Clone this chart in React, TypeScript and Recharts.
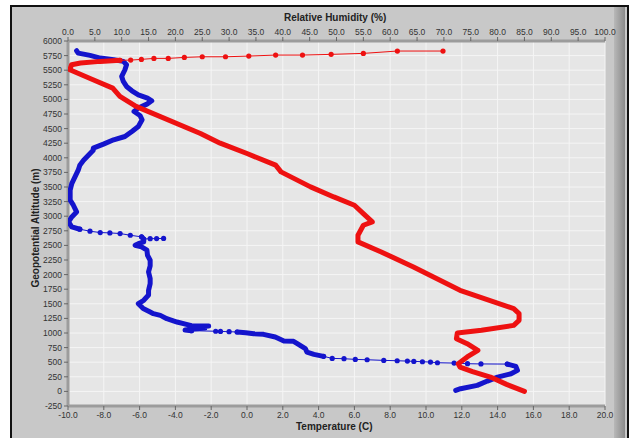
import React from "react";
import { ScatterChart, Scatter, XAxis, YAxis, CartesianGrid } from "recharts";

const RED = "#ee1111";
const BLUE = "#1414cc";
const FONT = "'Liberation Sans', Arial, sans-serif";

// axis ticks
const tempTicks = [-10, -8, -6, -4, -2, 0, 2, 4, 6, 8, 10, 12, 14, 16, 18, 20];
const rhTicks = [0, 5, 10, 15, 20, 25, 30, 35, 40, 45, 50, 55, 60, 65, 70, 75, 80, 85, 90, 95, 100];
const altTicks = [-250, 0, 250, 500, 750, 1000, 1250, 1500, 1750, 2000, 2250, 2500, 2750, 3000, 3250, 3500, 3750, 4000, 4250, 4500, 4750, 5000, 5250, 5500, 5750, 6000];

// temperature profile (C vs m)
const tempProfile = [
  { t: 15.5, alt: 0 }, { t: 14.5, alt: 120 }, { t: 13.6, alt: 245 }, { t: 12.6, alt: 340 },
  { t: 11.9, alt: 417 }, { t: 11.8, alt: 474 }, { t: 12.3, alt: 590 }, { t: 12.9, alt: 703 },
  { t: 12.3, alt: 817 }, { t: 11.7, alt: 903 }, { t: 11.75, alt: 1000 }, { t: 13.1, alt: 1046 },
  { t: 14.9, alt: 1131 }, { t: 15.2, alt: 1217 }, { t: 15.2, alt: 1331 }, { t: 14.9, alt: 1417 },
  { t: 11.9, alt: 1731 }, { t: 9.3, alt: 2131 }, { t: 7.5, alt: 2388 }, { t: 6.2, alt: 2560 },
  { t: 6.2, alt: 2674 }, { t: 6.5, alt: 2845 }, { t: 7.0, alt: 2902 }, { t: 6.5, alt: 3045 },
  { t: 6.0, alt: 3188 }, { t: 4.85, alt: 3330 }, { t: 3.55, alt: 3502 }, { t: 1.9, alt: 3759 },
  { t: 1.6, alt: 3874 }, { t: 0.0, alt: 4073 }, { t: -1.5, alt: 4251 }, { t: -2.6, alt: 4417 },
  { t: -6.2, alt: 4880 }, { t: -7.1, alt: 5051 }, { t: -7.5, alt: 5193 }, { t: -8.6, alt: 5336 },
  { t: -9.9, alt: 5508 }, { t: -9.8, alt: 5594 }, { t: -9.3, alt: 5622 }, { t: -8.2, alt: 5651 },
  { t: -7.1, alt: 5670 },
];
const tempTail = [
  { t: -7.1, alt: 5670 }, { t: -6.5, alt: 5673 }, { t: -5.9, alt: 5685 }, { t: -5.2, alt: 5702 },
  { t: -4.4, alt: 5702 }, { t: -3.5, alt: 5719 }, { t: -2.5, alt: 5730 }, { t: -1.2, alt: 5730 },
  { t: 0.1, alt: 5742 }, { t: 1.6, alt: 5759 }, { t: 3.1, alt: 5759 }, { t: 4.7, alt: 5771 },
  { t: 6.5, alt: 5788 }, { t: 8.4, alt: 5828 }, { t: 10.95, alt: 5828 },
];

// relative humidity profile (% vs m), split into dense and sparse stretches
const rhSurface = [
  { rh: 72.2, alt: 17 }, { rh: 73.1, alt: 46 }, { rh: 76.2, alt: 103 }, { rh: 78.1, alt: 177 },
  { rh: 80.0, alt: 245 }, { rh: 82.5, alt: 302 }, { rh: 83.7, alt: 360 }, { rh: 83.4, alt: 428 },
  { rh: 81.8, alt: 468 },
];
const rhDropLow = [
  { rh: 81.8, alt: 468 }, { rh: 76.9, alt: 470 }, { rh: 74.4, alt: 474 }, { rh: 71.9, alt: 485 },
  { rh: 68.8, alt: 491 }, { rh: 67.5, alt: 502 }, { rh: 66.0, alt: 508 }, { rh: 64.4, alt: 514 },
  { rh: 63.2, alt: 519 }, { rh: 61.3, alt: 525 }, { rh: 58.8, alt: 531 }, { rh: 55.7, alt: 542 },
  { rh: 53.5, alt: 548 }, { rh: 51.4, alt: 560 }, { rh: 49.2, alt: 565 }, { rh: 47.6, alt: 600 },
];
const rhLowMid = [
  { rh: 47.6, alt: 600 }, { rh: 45.8, alt: 634 }, { rh: 44.5, alt: 674 }, { rh: 44.2, alt: 731 },
  { rh: 42.7, alt: 817 }, { rh: 42.0, alt: 857 }, { rh: 40.2, alt: 862 }, { rh: 38.6, alt: 931 },
  { rh: 36.4, alt: 977 }, { rh: 34.6, alt: 988 }, { rh: 33.1, alt: 1005 }, { rh: 31.5, alt: 1017 },
];
const rhGap = [
  { rh: 31.5, alt: 1017 }, { rh: 30.0, alt: 1022 }, { rh: 28.4, alt: 1027 }, { rh: 27.5, alt: 1030 },
  { rh: 23.0, alt: 1040 },
];
const rhMid = [
  { rh: 23.0, alt: 1040 }, { rh: 21.8, alt: 1050 }, { rh: 23.5, alt: 1070 }, { rh: 25.5, alt: 1085 },
  { rh: 23.0, alt: 1095 }, { rh: 24.5, alt: 1110 }, { rh: 26.2, alt: 1118 }, { rh: 23.0, alt: 1125 },
  { rh: 21.5, alt: 1160 }, { rh: 20.3, alt: 1188 }, { rh: 18.4, alt: 1245 }, { rh: 17.2, alt: 1302 },
  { rh: 15.9, alt: 1331 }, { rh: 15.3, alt: 1360 }, { rh: 14.0, alt: 1420 }, { rh: 13.1, alt: 1503 },
  { rh: 14.1, alt: 1560 }, { rh: 15.0, alt: 1650 }, { rh: 15.0, alt: 1731 }, { rh: 15.3, alt: 1846 },
  { rh: 15.3, alt: 1931 }, { rh: 15.0, alt: 2045 }, { rh: 15.3, alt: 2150 }, { rh: 15.3, alt: 2245 },
  { rh: 14.8, alt: 2331 }, { rh: 14.7, alt: 2417 }, { rh: 13.7, alt: 2474 }, { rh: 12.5, alt: 2503 },
  { rh: 13.1, alt: 2530 }, { rh: 14.1, alt: 2560 }, { rh: 14.1, alt: 2610 }, { rh: 13.7, alt: 2646 },
];
const rhSpike = [
  { rh: 14.1, alt: 2610 }, { rh: 15.3, alt: 2615 }, { rh: 16.5, alt: 2617 }, { rh: 17.8, alt: 2620 },
];
const rhDropMid = [
  { rh: 13.7, alt: 2646 }, { rh: 11.6, alt: 2674 }, { rh: 9.7, alt: 2703 }, { rh: 7.8, alt: 2714 },
  { rh: 6.0, alt: 2720 }, { rh: 4.1, alt: 2743 }, { rh: 2.2, alt: 2777 },
];
const rhUpper = [
  { rh: 2.2, alt: 2777 }, { rh: 0.7, alt: 2816 }, { rh: 0.1, alt: 2902 }, { rh: 0.7, alt: 2988 },
  { rh: 1.6, alt: 3073 }, { rh: 1.0, alt: 3188 }, { rh: 0.4, alt: 3274 }, { rh: 0.4, alt: 3445 },
  { rh: 0.7, alt: 3559 }, { rh: 1.3, alt: 3673 }, { rh: 1.9, alt: 3788 }, { rh: 2.2, alt: 3874 },
  { rh: 2.9, alt: 3959 }, { rh: 3.8, alt: 4045 }, { rh: 4.7, alt: 4131 }, { rh: 4.7, alt: 4165 },
  { rh: 6.6, alt: 4234 }, { rh: 8.5, alt: 4308 }, { rh: 10.6, alt: 4365 }, { rh: 11.9, alt: 4451 },
  { rh: 13.1, alt: 4537 }, { rh: 13.8, alt: 4651 }, { rh: 13.4, alt: 4725 }, { rh: 12.3, alt: 4793 },
  { rh: 13.1, alt: 4851 }, { rh: 14.7, alt: 4919 }, { rh: 15.6, alt: 4976 }, { rh: 14.8, alt: 5022 },
  { rh: 13.1, alt: 5079 }, { rh: 11.9, alt: 5148 }, { rh: 10.9, alt: 5222 }, { rh: 10.3, alt: 5308 },
  { rh: 10.0, alt: 5394 }, { rh: 10.6, alt: 5508 }, { rh: 10.9, alt: 5594 }, { rh: 10.3, alt: 5651 },
  { rh: 8.5, alt: 5679 }, { rh: 6.0, alt: 5708 }, { rh: 4.1, alt: 5754 }, { rh: 2.9, alt: 5776 },
  { rh: 1.9, alt: 5793 }, { rh: 1.6, alt: 5833 },
];

const tickStyle = { fontSize: 8.5, fill: "#333", fontFamily: FONT };
const axisBar = { stroke: "#9c9c9c", strokeWidth: 3 };
const noDot = () => <g />;
const dot = (color: string) => (p: any) => <circle cx={p.cx} cy={p.cy} r={2.6} fill={color} />;
const thick = (color: string) => ({ stroke: color, strokeWidth: 5, strokeLinejoin: "round", strokeLinecap: "round" });
const thin = (color: string) => ({ stroke: color, strokeWidth: 1 });

const titleStyle: React.CSSProperties = {
  position: "absolute", fontFamily: FONT, fontWeight: "bold", fontSize: 10, color: "#222", whiteSpace: "nowrap",
};

export default function App() {
  return (
    <div style={{ position: "absolute", left: 0, top: 0, width: 631, height: 438, background: "#fff", overflow: "hidden" }}>
      <div style={{ position: "absolute", left: 10, top: 5, width: 615, height: 436, border: "2px solid #111", background: "#c8c8c8" }} />
      <div style={{ position: "absolute", left: 614, top: 7, width: 11, height: 431, background: "linear-gradient(to right, #b8b8b8, #8a8a8a)" }} />
      <div style={{ ...titleStyle, left: 284, top: 12 }}>Relative Humidity (%)</div>
      <div style={{ ...titleStyle, left: 296, top: 421 }}>Temperature (C)</div>
      <div style={{ ...titleStyle, left: 35, top: 228, transform: "translate(-50%, -50%) rotate(-90deg)" }}>Geopotential Altitude (m)</div>
      <div style={{ position: "absolute", left: 0, top: 0 }}>
        <ScatterChart width={631} height={438} margin={{ top: 21, right: 26, bottom: 12, left: 28 }}>
          <CartesianGrid xAxisId="t" fill="#e6e6e6" stroke="#f5f5f5" strokeWidth={1} />
          <XAxis xAxisId="t" type="number" dataKey="t" orientation="bottom" domain={[-10, 20]} ticks={tempTicks}
            interval={0} allowDataOverflow height={20} tickSize={4} axisLine={axisBar} tickLine={{ stroke: "#666" }}
            tick={tickStyle} tickFormatter={(v: number) => v.toFixed(1)} />
          <XAxis xAxisId="rh" type="number" dataKey="rh" orientation="top" domain={[0, 100]} ticks={rhTicks}
            interval={0} allowDataOverflow height={20} tickSize={4} axisLine={axisBar} tickLine={{ stroke: "#666" }}
            tick={tickStyle} tickFormatter={(v: number) => v.toFixed(1)} />
          <YAxis type="number" dataKey="alt" domain={[-250, 6000]} ticks={altTicks} interval={0} allowDataOverflow
            width={40} tickSize={4} axisLine={axisBar} tickLine={{ stroke: "#666" }} tick={tickStyle} />

          <Scatter xAxisId="rh" data={rhSurface} line={thick(BLUE)} shape={noDot} isAnimationActive={false} />
          <Scatter xAxisId="rh" data={rhDropLow} line={thin(BLUE)} shape={dot(BLUE)} isAnimationActive={false} />
          <Scatter xAxisId="rh" data={rhLowMid} line={thick(BLUE)} shape={noDot} isAnimationActive={false} />
          <Scatter xAxisId="rh" data={rhGap} line={thin(BLUE)} shape={dot(BLUE)} isAnimationActive={false} />
          <Scatter xAxisId="rh" data={rhMid} line={thick(BLUE)} shape={noDot} isAnimationActive={false} />
          <Scatter xAxisId="rh" data={rhSpike} line={thin(BLUE)} shape={dot(BLUE)} isAnimationActive={false} />
          <Scatter xAxisId="rh" data={rhDropMid} line={thin(BLUE)} shape={dot(BLUE)} isAnimationActive={false} />
          <Scatter xAxisId="rh" data={rhUpper} line={thick(BLUE)} shape={noDot} isAnimationActive={false} />

          <Scatter xAxisId="t" data={tempTail} line={thin(RED)} shape={dot(RED)} isAnimationActive={false} />
          <Scatter xAxisId="t" data={tempProfile} line={thick(RED)} shape={noDot} isAnimationActive={false} />
        </ScatterChart>
      </div>
    </div>
  );
}
